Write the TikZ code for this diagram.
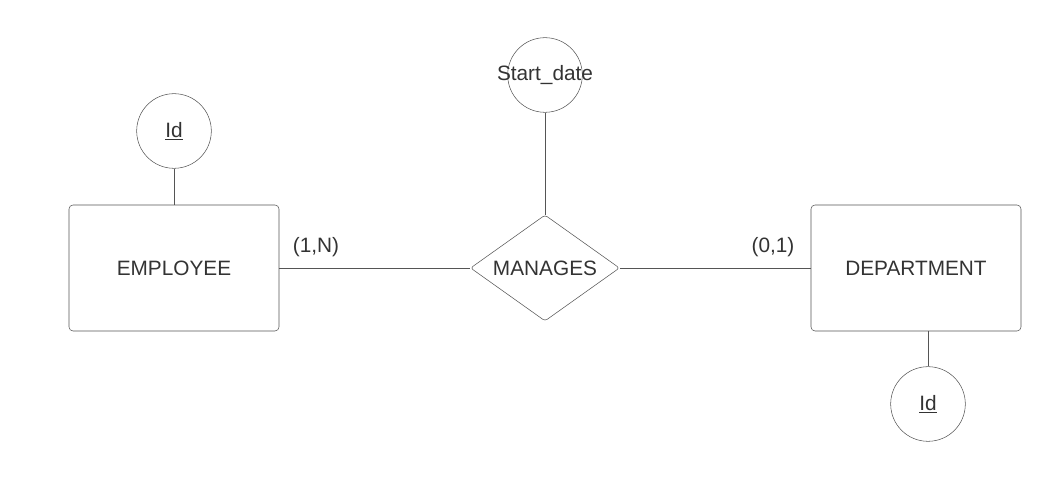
\documentclass[tikz,border=0pt]{standalone}
\usepackage{fontspec}
\setmainfont{Liberation Sans}
\usetikzlibrary{shapes.geometric}
\definecolor{linegray}{HTML}{555555}
\definecolor{textgray}{HTML}{333333}

\begin{document}
\begin{tikzpicture}[x=0.75pt,y=0.75pt,
  every node/.style={text=textgray,font=\fontsize{15.6pt}{18pt}\selectfont},
  entity/.style={draw=linegray,rectangle,rounded corners=3pt,minimum width=157.5pt,minimum height=94.5pt,inner sep=0pt},
  attrib/.style={draw=linegray,circle,minimum size=56pt,inner sep=0pt},
  relation/.style={draw=linegray,diamond,rounded corners=2pt,minimum width=111.75pt,minimum height=79.5pt,inner sep=0pt},
  link/.style={draw=linegray,line width=0.6pt}]

% fix the page to the size of the reference
\useasboundingbox (0,0) rectangle (1040,481);

% the two entities
\node[entity] (employee) at (174,213) {EMPLOYEE};
\node[entity] (department) at (916,213) {DEPARTMENT};

% the relation between them
\node[relation] (manages) at (545,213) {\makebox[0pt]{MANAGES}};

% the attributes
\node[attrib] (empid) at (174,350) {\underline{Id}};
\node[attrib] (startdate) at (545,406) {\makebox[0pt]{Start\_date}};
\node[attrib] (depid) at (928,77) {\underline{Id}};

% the connecting lines
\draw[link] (employee.east) -- (manages.west);
\draw[link] (manages.east) -- (department.west);
\draw[link] (empid.south) -- (employee.north);
\draw[link] (startdate.south) -- (manages.north);
\draw[link] (depid.north) -- (department.south -| depid.north);

% the cardinalities
\node (empcard) at (316,234) {(1,N)};
\node (depcard) at (773,234) {(0,1)};

\end{tikzpicture}
\end{document}
